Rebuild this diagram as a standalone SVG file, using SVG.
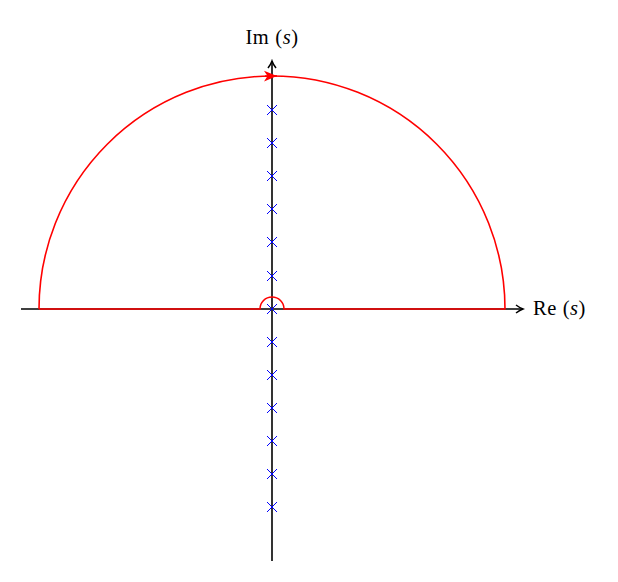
<svg xmlns="http://www.w3.org/2000/svg" width="618" height="582" viewBox="0 0 618 582">
<style>
.ax{stroke:#000;stroke-width:1.6;fill:none}
.red{stroke:#f00;stroke-width:1.6;fill:none}
.pole{stroke:#00f;stroke-width:1;fill:none}
.lbl{font-family:"Liberation Serif","DejaVu Serif",serif;font-size:20.5px;fill:#000;letter-spacing:0.5px}
</style>
<defs>
<marker id="ah" viewBox="0 0 10 10" refX="8" refY="5" markerWidth="10" markerHeight="10" markerUnits="userSpaceOnUse" orient="auto">
<path d="M1,1 Q5,4 8,5 Q5,6 1,9" fill="none" stroke="#000" stroke-width="1.5"/>
</marker>
<marker id="rh" viewBox="0 0 14 12" refX="13" refY="6" markerWidth="14" markerHeight="12" markerUnits="userSpaceOnUse" orient="auto">
<path d="M0,0.5 L13,6 L0,11.5 L3.5,6 Z" fill="#f00"/>
</marker>
<g id="x"><path d="M-5,-5 L5,5 M-5,5 L5,-5"/></g>
</defs>
<g id="connectors">
<line id="re-axis" class="ax" x1="21" y1="309" x2="523" y2="309" marker-end="url(#ah)"/>
<line id="im-axis" class="ax" x1="272" y1="561" x2="272" y2="61" marker-end="url(#ah)"/>
<path id="contour" class="red" d="M39,309 L260,309 A12,12 0 0 1 284,309 L505,309 A233,233 0 0 0 39,309"/>
<path id="contour-arrow" class="red" d="M265,76.1 L277,76" marker-end="url(#rh)"/>
</g>
<g id="poles" class="pole">
<use href="#x" x="272" y="110"/>
<use href="#x" x="272" y="143"/>
<use href="#x" x="272" y="176"/>
<use href="#x" x="272" y="209"/>
<use href="#x" x="272" y="242"/>
<use href="#x" x="272" y="276"/>
<use href="#x" x="272" y="309"/>
<use href="#x" x="272" y="342"/>
<use href="#x" x="272" y="375"/>
<use href="#x" x="272" y="408"/>
<use href="#x" x="272" y="441"/>
<use href="#x" x="272" y="474"/>
<use href="#x" x="272" y="507"/>
</g>
<g id="im-label"><text class="lbl" x="272" y="44" text-anchor="middle">Im<tspan dx="6">(</tspan><tspan font-style="italic">s</tspan>)</text></g>
<g id="re-label"><text class="lbl" x="533" y="315">Re<tspan dx="6">(</tspan><tspan font-style="italic">s</tspan>)</text></g>
</svg>
